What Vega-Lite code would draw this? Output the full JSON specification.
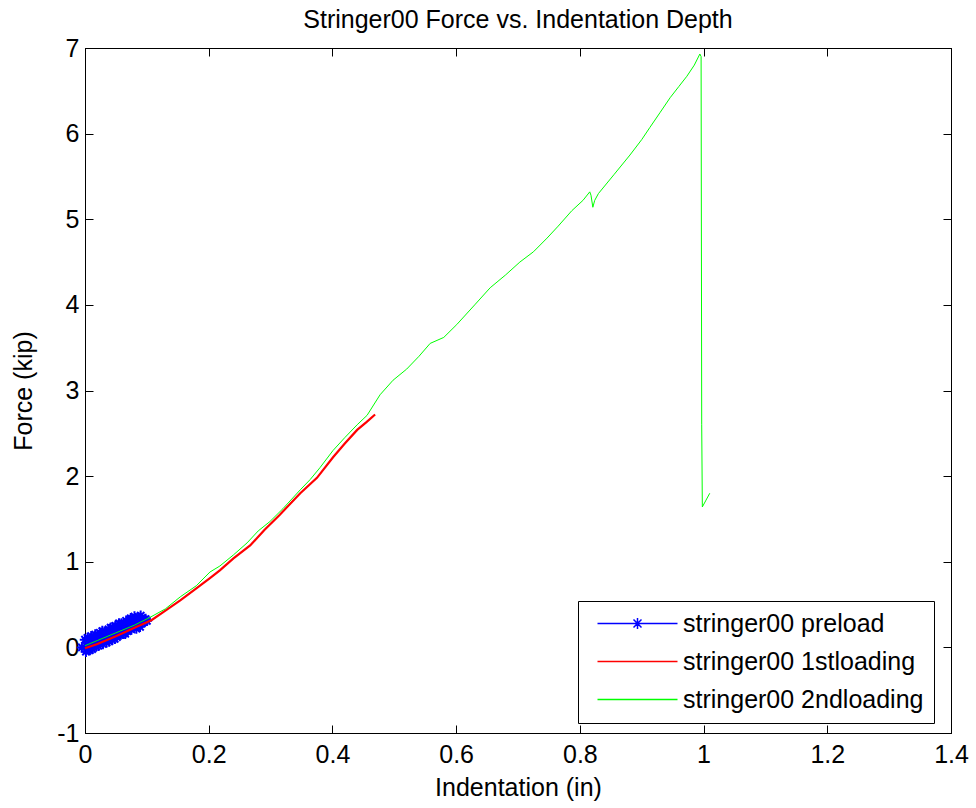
{
  "$schema": "https://vega.github.io/schema/vega-lite/v6.json",
  "width": 866,
  "height": 685,
  "autosize": {"type": "none"},
  "padding": {"left": 85, "top": 48, "right": 25, "bottom": 75},
  "background": "white",
  "config": {
    "view": {"stroke": "black", "strokeWidth": 1},
    "font": "Liberation Sans",
    "axis": {
      "grid": false,
      "domainColor": "black",
      "domainWidth": 1,
      "tickColor": "black",
      "tickSize": -8,
      "tickWidth": 1,
      "labelColor": "black",
      "labelFont": "Liberation Sans",
      "labelFontSize": 25,
      "titleColor": "black",
      "titleFont": "Liberation Sans",
      "titleFontSize": 25,
      "titleFontWeight": "normal"
    }
  },
  "title": {
    "text": "Stringer00 Force vs. Indentation Depth",
    "fontSize": 25,
    "fontWeight": "normal",
    "font": "Liberation Sans",
    "color": "black",
    "offset": 3
  },
  "datasets": {
    "preload": [
      {"x": -0.005, "y": 0.0, "series": "stringer00 preload"},
      {"x": 0.0, "y": 0.09, "series": "stringer00 preload"},
      {"x": 0.0015, "y": -0.05, "series": "stringer00 preload"},
      {"x": 0.003, "y": -0.02, "series": "stringer00 preload"},
      {"x": 0.004, "y": 0.11, "series": "stringer00 preload"},
      {"x": 0.005, "y": 0.06, "series": "stringer00 preload"},
      {"x": 0.0065, "y": -0.02, "series": "stringer00 preload"},
      {"x": 0.008, "y": -0.03, "series": "stringer00 preload"},
      {"x": 0.009, "y": 0.07, "series": "stringer00 preload"},
      {"x": 0.01, "y": 0.13, "series": "stringer00 preload"},
      {"x": 0.0115, "y": -0.02, "series": "stringer00 preload"},
      {"x": 0.013, "y": 0.03, "series": "stringer00 preload"},
      {"x": 0.014, "y": 0.08, "series": "stringer00 preload"},
      {"x": 0.015, "y": 0.12, "series": "stringer00 preload"},
      {"x": 0.0165, "y": 0.15, "series": "stringer00 preload"},
      {"x": 0.018, "y": 0.01, "series": "stringer00 preload"},
      {"x": 0.019, "y": 0.05, "series": "stringer00 preload"},
      {"x": 0.02, "y": 0.14, "series": "stringer00 preload"},
      {"x": 0.0215, "y": 0.02, "series": "stringer00 preload"},
      {"x": 0.023, "y": 0.09, "series": "stringer00 preload"},
      {"x": 0.024, "y": 0.17, "series": "stringer00 preload"},
      {"x": 0.025, "y": 0.04, "series": "stringer00 preload"},
      {"x": 0.0265, "y": 0.08, "series": "stringer00 preload"},
      {"x": 0.028, "y": 0.19, "series": "stringer00 preload"},
      {"x": 0.029, "y": 0.04, "series": "stringer00 preload"},
      {"x": 0.03, "y": 0.1, "series": "stringer00 preload"},
      {"x": 0.0315, "y": 0.18, "series": "stringer00 preload"},
      {"x": 0.033, "y": 0.16, "series": "stringer00 preload"},
      {"x": 0.034, "y": 0.09, "series": "stringer00 preload"},
      {"x": 0.035, "y": 0.06, "series": "stringer00 preload"},
      {"x": 0.0365, "y": 0.13, "series": "stringer00 preload"},
      {"x": 0.038, "y": 0.21, "series": "stringer00 preload"},
      {"x": 0.039, "y": 0.07, "series": "stringer00 preload"},
      {"x": 0.04, "y": 0.11, "series": "stringer00 preload"},
      {"x": 0.0415, "y": 0.23, "series": "stringer00 preload"},
      {"x": 0.043, "y": 0.17, "series": "stringer00 preload"},
      {"x": 0.044, "y": 0.09, "series": "stringer00 preload"},
      {"x": 0.045, "y": 0.23, "series": "stringer00 preload"},
      {"x": 0.0465, "y": 0.16, "series": "stringer00 preload"},
      {"x": 0.048, "y": 0.1, "series": "stringer00 preload"},
      {"x": 0.049, "y": 0.25, "series": "stringer00 preload"},
      {"x": 0.05, "y": 0.21, "series": "stringer00 preload"},
      {"x": 0.0515, "y": 0.12, "series": "stringer00 preload"},
      {"x": 0.053, "y": 0.17, "series": "stringer00 preload"},
      {"x": 0.054, "y": 0.22, "series": "stringer00 preload"},
      {"x": 0.055, "y": 0.28, "series": "stringer00 preload"},
      {"x": 0.0565, "y": 0.19, "series": "stringer00 preload"},
      {"x": 0.058, "y": 0.15, "series": "stringer00 preload"},
      {"x": 0.059, "y": 0.28, "series": "stringer00 preload"},
      {"x": 0.06, "y": 0.21, "series": "stringer00 preload"},
      {"x": 0.0615, "y": 0.16, "series": "stringer00 preload"},
      {"x": 0.063, "y": 0.28, "series": "stringer00 preload"},
      {"x": 0.064, "y": 0.23, "series": "stringer00 preload"},
      {"x": 0.065, "y": 0.16, "series": "stringer00 preload"},
      {"x": 0.0665, "y": 0.31, "series": "stringer00 preload"},
      {"x": 0.068, "y": 0.28, "series": "stringer00 preload"},
      {"x": 0.069, "y": 0.19, "series": "stringer00 preload"},
      {"x": 0.07, "y": 0.21, "series": "stringer00 preload"},
      {"x": 0.0715, "y": 0.25, "series": "stringer00 preload"},
      {"x": 0.073, "y": 0.32, "series": "stringer00 preload"},
      {"x": 0.074, "y": 0.34, "series": "stringer00 preload"},
      {"x": 0.075, "y": 0.21, "series": "stringer00 preload"},
      {"x": 0.0765, "y": 0.24, "series": "stringer00 preload"},
      {"x": 0.078, "y": 0.29, "series": "stringer00 preload"},
      {"x": 0.079, "y": 0.27, "series": "stringer00 preload"},
      {"x": 0.08, "y": 0.36, "series": "stringer00 preload"},
      {"x": 0.0815, "y": 0.34, "series": "stringer00 preload"},
      {"x": 0.083, "y": 0.22, "series": "stringer00 preload"},
      {"x": 0.084, "y": 0.26, "series": "stringer00 preload"},
      {"x": 0.085, "y": 0.32, "series": "stringer00 preload"},
      {"x": 0.0865, "y": 0.35, "series": "stringer00 preload"},
      {"x": 0.088, "y": 0.28, "series": "stringer00 preload"},
      {"x": 0.089, "y": 0.24, "series": "stringer00 preload"},
      {"x": 0.09, "y": 0.37, "series": "stringer00 preload"},
      {"x": 0.0915, "y": 0.34, "series": "stringer00 preload"},
      {"x": 0.093, "y": 0.29, "series": "stringer00 preload"},
      {"x": 0.096, "y": 0.3, "series": "stringer00 preload"},
      {"x": 0.098, "y": 0.33, "series": "stringer00 preload"},
      {"x": 0.1, "y": 0.31, "series": "stringer00 preload"}
    ],
    "first": [
      {"x": 0.0, "y": -0.01, "series": "stringer00 1stloading"},
      {"x": 0.02, "y": 0.04, "series": "stringer00 1stloading"},
      {"x": 0.05, "y": 0.13, "series": "stringer00 1stloading"},
      {"x": 0.08, "y": 0.23, "series": "stringer00 1stloading"},
      {"x": 0.108, "y": 0.32, "series": "stringer00 1stloading"},
      {"x": 0.13, "y": 0.43, "series": "stringer00 1stloading"},
      {"x": 0.154, "y": 0.55, "series": "stringer00 1stloading"},
      {"x": 0.18, "y": 0.69, "series": "stringer00 1stloading"},
      {"x": 0.202, "y": 0.81, "series": "stringer00 1stloading"},
      {"x": 0.218, "y": 0.9, "series": "stringer00 1stloading"},
      {"x": 0.24, "y": 1.04, "series": "stringer00 1stloading"},
      {"x": 0.267, "y": 1.19, "series": "stringer00 1stloading"},
      {"x": 0.29, "y": 1.37, "series": "stringer00 1stloading"},
      {"x": 0.315, "y": 1.55, "series": "stringer00 1stloading"},
      {"x": 0.348, "y": 1.8, "series": "stringer00 1stloading"},
      {"x": 0.375, "y": 1.98, "series": "stringer00 1stloading"},
      {"x": 0.401, "y": 2.22, "series": "stringer00 1stloading"},
      {"x": 0.42, "y": 2.38, "series": "stringer00 1stloading"},
      {"x": 0.44, "y": 2.54, "series": "stringer00 1stloading"},
      {"x": 0.455, "y": 2.63, "series": "stringer00 1stloading"},
      {"x": 0.469, "y": 2.72, "series": "stringer00 1stloading"}
    ],
    "second": [
      {"x": 0.0, "y": 0.02, "series": "stringer00 2ndloading"},
      {"x": 0.02, "y": 0.08, "series": "stringer00 2ndloading"},
      {"x": 0.05, "y": 0.17, "series": "stringer00 2ndloading"},
      {"x": 0.08, "y": 0.26, "series": "stringer00 2ndloading"},
      {"x": 0.105, "y": 0.35, "series": "stringer00 2ndloading"},
      {"x": 0.13, "y": 0.45, "series": "stringer00 2ndloading"},
      {"x": 0.154, "y": 0.59, "series": "stringer00 2ndloading"},
      {"x": 0.18, "y": 0.72, "series": "stringer00 2ndloading"},
      {"x": 0.202, "y": 0.88, "series": "stringer00 2ndloading"},
      {"x": 0.218, "y": 0.95, "series": "stringer00 2ndloading"},
      {"x": 0.24, "y": 1.08, "series": "stringer00 2ndloading"},
      {"x": 0.262, "y": 1.22, "series": "stringer00 2ndloading"},
      {"x": 0.28, "y": 1.36, "series": "stringer00 2ndloading"},
      {"x": 0.299, "y": 1.47, "series": "stringer00 2ndloading"},
      {"x": 0.32, "y": 1.62, "series": "stringer00 2ndloading"},
      {"x": 0.348, "y": 1.84, "series": "stringer00 2ndloading"},
      {"x": 0.364, "y": 1.96, "series": "stringer00 2ndloading"},
      {"x": 0.38, "y": 2.1, "series": "stringer00 2ndloading"},
      {"x": 0.401, "y": 2.3, "series": "stringer00 2ndloading"},
      {"x": 0.42, "y": 2.45, "series": "stringer00 2ndloading"},
      {"x": 0.44, "y": 2.6, "series": "stringer00 2ndloading"},
      {"x": 0.456, "y": 2.71, "series": "stringer00 2ndloading"},
      {"x": 0.477, "y": 2.95, "series": "stringer00 2ndloading"},
      {"x": 0.498, "y": 3.12, "series": "stringer00 2ndloading"},
      {"x": 0.52, "y": 3.25, "series": "stringer00 2ndloading"},
      {"x": 0.54, "y": 3.4, "series": "stringer00 2ndloading"},
      {"x": 0.558, "y": 3.55, "series": "stringer00 2ndloading"},
      {"x": 0.58, "y": 3.62, "series": "stringer00 2ndloading"},
      {"x": 0.601, "y": 3.77, "series": "stringer00 2ndloading"},
      {"x": 0.63, "y": 4.0, "series": "stringer00 2ndloading"},
      {"x": 0.655, "y": 4.2, "series": "stringer00 2ndloading"},
      {"x": 0.68, "y": 4.35, "series": "stringer00 2ndloading"},
      {"x": 0.703, "y": 4.5, "series": "stringer00 2ndloading"},
      {"x": 0.725, "y": 4.62, "series": "stringer00 2ndloading"},
      {"x": 0.747, "y": 4.78, "series": "stringer00 2ndloading"},
      {"x": 0.765, "y": 4.92, "series": "stringer00 2ndloading"},
      {"x": 0.787, "y": 5.1, "series": "stringer00 2ndloading"},
      {"x": 0.805, "y": 5.22, "series": "stringer00 2ndloading"},
      {"x": 0.816, "y": 5.32, "series": "stringer00 2ndloading"},
      {"x": 0.818, "y": 5.28, "series": "stringer00 2ndloading"},
      {"x": 0.821, "y": 5.14, "series": "stringer00 2ndloading"},
      {"x": 0.824, "y": 5.22, "series": "stringer00 2ndloading"},
      {"x": 0.83, "y": 5.3, "series": "stringer00 2ndloading"},
      {"x": 0.855, "y": 5.52, "series": "stringer00 2ndloading"},
      {"x": 0.881, "y": 5.75, "series": "stringer00 2ndloading"},
      {"x": 0.9, "y": 5.93, "series": "stringer00 2ndloading"},
      {"x": 0.913, "y": 6.07, "series": "stringer00 2ndloading"},
      {"x": 0.93, "y": 6.25, "series": "stringer00 2ndloading"},
      {"x": 0.946, "y": 6.42, "series": "stringer00 2ndloading"},
      {"x": 0.96, "y": 6.55, "series": "stringer00 2ndloading"},
      {"x": 0.973, "y": 6.67, "series": "stringer00 2ndloading"},
      {"x": 0.985, "y": 6.8, "series": "stringer00 2ndloading"},
      {"x": 0.994, "y": 6.93, "series": "stringer00 2ndloading"},
      {"x": 0.996, "y": 6.9, "series": "stringer00 2ndloading"},
      {"x": 0.997, "y": 2.6, "series": "stringer00 2ndloading"},
      {"x": 0.998, "y": 1.64, "series": "stringer00 2ndloading"},
      {"x": 1.004, "y": 1.72, "series": "stringer00 2ndloading"},
      {"x": 1.01, "y": 1.8, "series": "stringer00 2ndloading"}
    ]
  },
  "layer": [
    {
      "data": {"name": "preload"},
      "mark": {"type": "line", "strokeWidth": 1},
      "encoding": {
        "x": {"field": "x", "type": "quantitative", "scale": {"domain": [0, 1.4], "nice": false, "zero": false},
              "axis": {"orient": "bottom", "title": "Indentation (in)", "values": [0, 0.2, 0.4, 0.6, 0.8, 1, 1.2, 1.4], "labelExpr": "datum.value", "labelPadding": 17, "titlePadding": 8, "labelFlush": false}},
        "y": {"field": "y", "type": "quantitative", "scale": {"domain": [-1, 7], "nice": false, "zero": false},
              "axis": {"orient": "left", "title": "Force (kip)", "values": [-1, 0, 1, 2, 3, 4, 5, 6, 7], "labelExpr": "datum.value", "labelPadding": 14, "titlePadding": 20, "labelFlush": false}},
        "color": {"field": "series", "type": "nominal",
                  "scale": {"domain": ["stringer00 preload", "stringer00 1stloading", "stringer00 2ndloading"], "range": ["#0000FF", "#FF0000", "#00FF00"]},
                  "legend": {"title": null, "orient": "none", "legendX": 493, "legendY": 553, "strokeColor": "black", "fillColor": "white", "padding": 10, "symbolSize": 400, "symbolStrokeWidth": 1.5, "symbolOpacity": 1, "symbolOffset": 37, "labelFontSize": 25, "labelFont": "Liberation Sans", "labelColor": "black", "labelOffset": 33, "labelLimit": 500, "rowPadding": 12, "cornerRadius": 0,
                             "encode": {"symbols": {"update": {"stroke": {"scale": "color", "field": "value"}, "strokeWidth": {"value": 1.5}, "opacity": {"value": 1}, "fill": {"value": "transparent"}}}}}}
      }
    },
    {
      "data": {"name": "preload"},
      "mark": {"type": "point", "shape": "M-1,0L1,0M0,-1L0,1M-0.7,-0.7L0.7,0.7M-0.7,0.7L0.7,-0.7", "filled": false, "size": 110, "strokeWidth": 2, "color": "#0000FF", "opacity": 1},
      "encoding": {
        "x": {"field": "x", "type": "quantitative", "axis": null},
        "y": {"field": "y", "type": "quantitative", "axis": null}
      }
    },
    {
      "data": {"name": "first"},
      "mark": {"type": "line", "strokeWidth": 2.2},
      "encoding": {
        "x": {"field": "x", "type": "quantitative", "axis": null},
        "y": {"field": "y", "type": "quantitative", "axis": null},
        "color": {"field": "series", "type": "nominal"}
      }
    },
    {
      "data": {"name": "second"},
      "mark": {"type": "line", "strokeWidth": 1},
      "encoding": {
        "x": {"field": "x", "type": "quantitative",
              "axis": {"orient": "top", "title": null, "labels": false, "values": [0, 0.2, 0.4, 0.6, 0.8, 1, 1.2, 1.4]}},
        "y": {"field": "y", "type": "quantitative",
              "axis": {"orient": "right", "title": null, "labels": false, "values": [-1, 0, 1, 2, 3, 4, 5, 6, 7]}},
        "color": {"field": "series", "type": "nominal"}
      }
    },
    {
      "data": {"name": "preload"},
      "transform": [{"filter": "datum.x > 100"}],
      "mark": {"type": "point", "filled": false, "strokeWidth": 1, "opacity": 1},
      "encoding": {
        "x": {"field": "x", "type": "quantitative", "axis": null},
        "y": {"field": "y", "type": "quantitative", "axis": null},
        "color": {"field": "series", "type": "nominal"},
        "shape": {"field": "series", "type": "nominal",
                  "scale": {"domain": ["stringer00 preload", "stringer00 1stloading", "stringer00 2ndloading"],
                            "range": ["M-4,0L4,0M-0.55,0L0.55,0M0,-0.55L0,0.55M-0.4,-0.4L0.4,0.4M-0.4,0.4L0.4,-0.4", "M-4,0L4,0", "M-4,0L4,0"]}}
      }
    }
  ],
  "resolve": {"axis": {"x": "independent", "y": "independent"}}
}
